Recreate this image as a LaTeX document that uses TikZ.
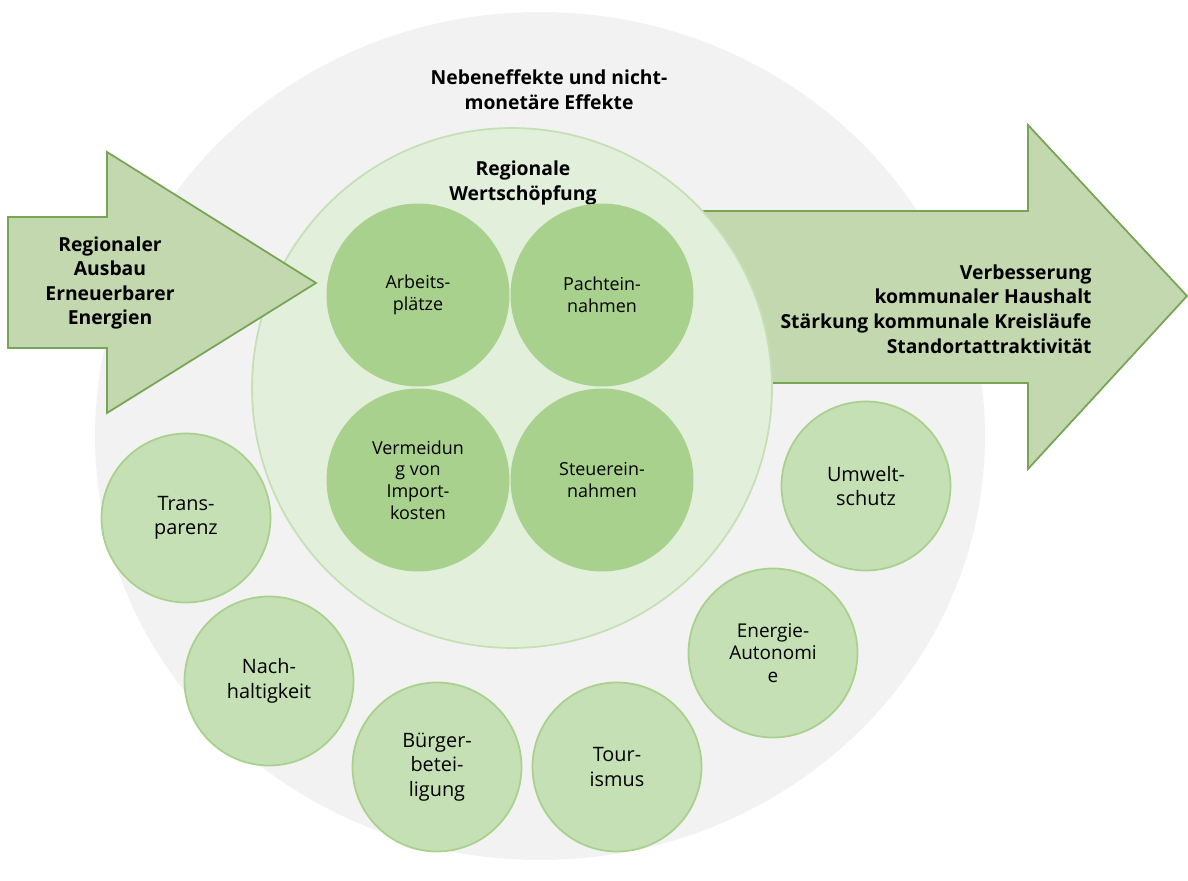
\documentclass[tikz,border=0pt]{standalone}
\usepackage{fontspec}
\setmainfont{Open Sans}
\usepackage{tikz}
\usetikzlibrary{positioning}
\definecolor{halo}{HTML}{F2F2F2}
\definecolor{pale}{HTML}{E2EFDA}
\definecolor{paleline}{HTML}{C5E0B4}
\definecolor{mid}{HTML}{A9D18E}
\definecolor{soft}{HTML}{C5E0B4}
\definecolor{softline}{HTML}{A9D18E}
\definecolor{arrowfill}{HTML}{C4D8AF}
\definecolor{arrowline}{HTML}{76A556}
\tikzset{
  core/.style={
    circle, fill=mid, minimum size=3.66cm, inner sep=0pt, align=center,
    font=\fontsize{10.2}{12.3}\selectfont
  },
  side/.style={
    circle, draw=softline, line width=1pt, fill=soft, minimum size=3.38cm,
    inner sep=0pt, align=center, font=\fontsize{11.3}{14}\selectfont
  },
  bigarrow/.style={fill=arrowfill, draw=arrowline, line width=1pt},
  heading/.style={font=\bfseries\fontsize{11}{14}\selectfont, align=center},
}

\begin{document}
\begin{tikzpicture}[x=0.02cm, y=-0.02cm]
    \useasboundingbox (0,0) rectangle (1188,881);
    \clip (0,0) rectangle (1188,881);
    % background halo
    \fill[halo] (540,436) ellipse [x radius=445, y radius=424];
    \node[heading] (side) at (549,90) {Nebeneffekte und nicht-\\monetäre Effekte};
    % outgoing arrow
    \draw[bigarrow] (680,211) -- (1028,211) -- (1028,125) -- (1187,296)
      -- (1028,469) -- (1028,383) -- (680,383) -- cycle;
    \node[heading, align=right, anchor=east, inner sep=0pt] (out) at (1092,309)
      {Verbesserung\\kommunaler Haushalt\\Stärkung kommunale Kreisläufe\\Standortattraktivität};
    % regional value circle
    \node[circle, draw=paleline, line width=1pt, fill=pale, minimum size=10.4cm] (rw) at (512,388) {};
    \node[heading] (rwlabel) at (523,183) {Regionale\\Wertschöpfung};
    % incoming arrow
    \draw[bigarrow] (8,217) -- (107,217) -- (107,152) -- (316,283)
      -- (107,413) -- (107,348) -- (8,348) -- cycle;
    \node[heading] (in) at (110,283) {Regionaler\\Ausbau\\Erneuerbarer\\Energien};
    % inner circles
    \node[core] (jobs) at (418,295) {Arbeits-\\plätze};
    \node[core] (lease) at (602,295) {Pachtein-\\nahmen};
    \node[core] (import) at (418,480) {Vermeidun\\g von\\Import-\\kosten};
    \node[core] (tax) at (602,480) {Steuerein-\\nahmen};
    % outer circles
    \node[side] (transp) at (186,518) {Trans-\\parenz};
    \node[side] (sustain) at (269,681) {Nach-\\haltigkeit};
    \node[side] (citizen) at (437,767) {Bürger-\\betei-\\ligung};
    \node[side] (tour) at (617,767) {Tour-\\ismus};
    \node[side, font=\fontsize{10.8}{12.8}\selectfont] (auto) at (773,653) {Energie-\\Autonomi\\e};
    \node[side] (env) at (866,486) {Umwelt-\\schutz};
\end{tikzpicture}
\end{document}
